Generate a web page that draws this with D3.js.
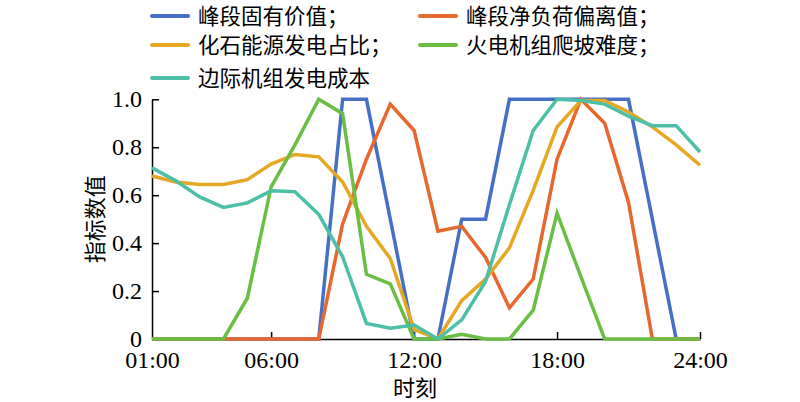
<!DOCTYPE html>
<html>
<head>
<meta charset="utf-8">
<script src="https://cdn.jsdelivr.net/npm/d3@7"></script>
<style>
  html, body { margin: 0; padding: 0; background: #fff; }
  svg { display: block; }
</style>
</head>
<body>
<svg id="chart" width="800" height="402"></svg>
<script>
// ---- data ----
const hours = [1,2,3,4,5,6,7,8,9,10,11,12,13,14,15,16,17,18,19,20,21,22,23,24];
const seriesNames = ["峰段固有价值；", "峰段净负荷偏离值；", "化石能源发电占比；", "火电机组爬坡难度；", "边际机组发电成本"];
const peakValue      = [0,0,0,0,0,0,0,0,1,1,0.5,0,0,0.5,0.5,1,1,1,1,1,1,0.5,0,0];
const netLoadDev     = [0,0,0,0,0,0,0,0,0.48,0.75,0.98,0.87,0.45,0.47,0.34,0.13,0.25,0.75,1.0,0.9,0.57,0,0,0];
const fossilShare    = [0.68,0.655,0.645,0.645,0.665,0.73,0.77,0.76,0.655,0.47,0.336,0.04,0,0.16,0.25,0.38,0.62,0.885,0.995,0.995,0.947,0.885,0.81,0.725];
const rampDifficulty = [0,0,0,0,0.17,0.635,0.81,1.0,0.94,0.27,0.23,0,0,0.02,0,0,0.12,0.525,0.26,0,0,0,0,0];
const marginalCost   = [0.714,0.66,0.593,0.549,0.568,0.618,0.614,0.52,0.343,0.065,0.045,0.058,0,0.08,0.24,0.56,0.87,1.0,0.995,0.98,0.93,0.89,0.89,0.78];
const xTickValues = [1, 6, 12, 18, 24];
const xTickLabels = ["01:00", "06:00", "12:00", "18:00", "24:00"];
const yTickValues = [0, 0.2, 0.4, 0.6, 0.8, 1.0];
const yTickLabels = ["0", "0.2", "0.4", "0.6", "0.8", "1.0"];
const xTitle = "时刻";
const yTitle = "指标数值";
const colors = ["#4570C6", "#E8672E", "#E6A723", "#6BBE44", "#4CBFA6"];

const seriesData = [peakValue, netLoadDev, fossilShare, rampDifficulty, marginalCost];

// ---- layout ----
const svg = d3.select("#chart");
const pLeft = 152, pRight = 700, pTop = 99.3, pBottom = 339;
const x = d3.scaleLinear().domain([1, 24]).range([pLeft, pRight]);
const y = d3.scaleLinear().domain([0, 1]).range([pBottom, pTop]);

const serif = "'Liberation Serif', 'Times New Roman', serif";
const cjk = "'Noto Sans CJK SC', sans-serif";

// axes
const xAxis = d3.axisBottom(x).tickValues(xTickValues)
  .tickFormat((d, i) => xTickLabels[i]).tickSizeInner(-7).tickSizeOuter(0).tickPadding(12);
const gx = svg.append("g").attr("transform", `translate(0,${pBottom})`).call(xAxis);
gx.select(".domain").attr("stroke", "#000").attr("stroke-width", 1.5);
gx.selectAll(".tick line").attr("stroke", "#000").attr("stroke-width", 1.5);
gx.selectAll(".tick").filter(d => d === 1).select("line").remove();
gx.selectAll("text").attr("font-family", serif).attr("font-size", 24).attr("fill", "#000");

const yAxis = d3.axisLeft(y).tickValues(yTickValues)
  .tickFormat((d, i) => yTickLabels[i]).tickSizeInner(-7).tickSizeOuter(0).tickPadding(10);
const gy = svg.append("g").attr("transform", `translate(${pLeft},0)`).call(yAxis);
gy.select(".domain").attr("stroke", "#000").attr("stroke-width", 1.5);
gy.selectAll(".tick line").attr("stroke", "#000").attr("stroke-width", 1.5);
gy.selectAll(".tick").filter(d => d === 0).select("line").remove();
gy.selectAll("text").attr("font-family", serif).attr("font-size", 24).attr("fill", "#000");

// titles
svg.append("text").attr("x", 415).attr("y", 396).attr("text-anchor", "middle")
  .attr("font-family", cjk).attr("font-size", 22).attr("fill", "#000").text(xTitle);
svg.append("text").attr("transform", `translate(103,${(pTop + pBottom) / 2}) rotate(-90)`)
  .attr("text-anchor", "middle").attr("font-family", cjk).attr("font-size", 22)
  .attr("fill", "#000").text(yTitle);

// lines
const line = d3.line().x((d, i) => x(hours[i])).y(d => y(d));
seriesData.forEach((s, k) => {
  svg.append("path").datum(s).attr("d", line)
    .attr("fill", "none").attr("stroke", colors[k]).attr("stroke-width", 3.5)
    .attr("stroke-linejoin", "miter").attr("stroke-linecap", "butt");
});

// legend
const legendPos = [
  {lx: 152, ty: 16}, {lx: 420, ty: 16},
  {lx: 152, ty: 45}, {lx: 420, ty: 45},
  {lx: 152, ty: 78}
];
const lg = svg.append("g");
seriesNames.forEach((name, k) => {
  const p = legendPos[k];
  lg.append("line").attr("x1", p.lx).attr("x2", p.lx + 36).attr("y1", p.ty).attr("y2", p.ty)
    .attr("stroke", colors[k]).attr("stroke-width", 4).attr("stroke-linecap", "round");
  lg.append("text").attr("x", p.lx + 46).attr("y", p.ty).attr("dy", "0.36em")
    .attr("font-family", cjk).attr("font-size", 21.5).attr("fill", "#000").text(name);
});
</script>
</body>
</html>
